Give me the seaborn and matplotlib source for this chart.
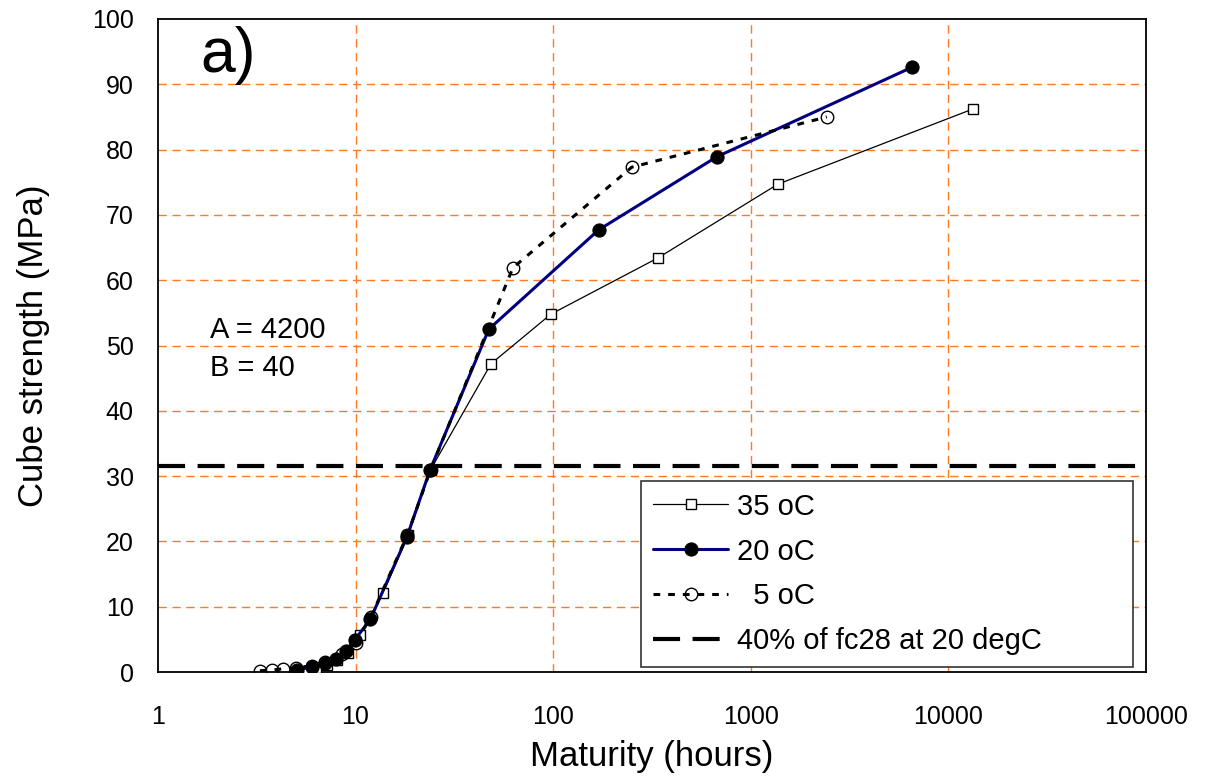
import numpy as np
import pandas as pd
import matplotlib
matplotlib.use("Agg")
import matplotlib.pyplot as plt
import seaborn as sns
from matplotlib.ticker import FixedLocator, FuncFormatter

# ---- data ----
x35 = [5.5, 6.3, 7.2, 8.1, 9.2, 10.5, 13.8, 18.5, 24.0, 48.5, 97.5, 339, 1373, 13300]
y35 = [0.2, 0.6, 1.1, 1.8, 2.9, 5.7, 12.1, 21.0, 31.0, 47.2, 54.8, 63.4, 74.7, 86.2]

x20 = [5.05, 6.0, 7.0, 7.96, 8.94, 9.9, 11.9, 18.2, 23.8, 47.3, 170, 674, 6550]
y20 = [0.3, 0.8, 1.4, 2.0, 3.2, 4.9, 8.1, 20.7, 30.9, 52.5, 67.7, 78.9, 92.6]

x5 = [3.28, 3.78, 4.29, 5.0, 6.0, 7.0, 8.5, 10.0, 12.0, 18.3, 24.0, 62.6, 250, 2430]
y5 = [0.2, 0.3, 0.5, 0.6, 1.0, 1.6, 2.8, 4.5, 8.5, 21.0, 31.0, 61.9, 77.3, 85.0]

threshold = 31.5

labels = ["35 oC", "20 oC", "  5 oC", "40% of fc28 at 20 degC"]
x_ticks = [1, 10, 100, 1000, 10000, 100000]
y_ticks = [0, 10, 20, 30, 40, 50, 60, 70, 80, 90, 100]

sns.set_theme(style="white")
plt.rcParams["font.family"] = ["Liberation Sans", "DejaVu Sans"]
plt.rcParams["text.color"] = "black"
plt.rcParams["axes.labelcolor"] = "black"
plt.rcParams["xtick.color"] = "black"
plt.rcParams["ytick.color"] = "black"

fig = plt.figure(figsize=(12.06, 7.78), dpi=100)
ax = fig.add_axes([0.131, 0.1362, 0.819, 0.8394])

grid_c = "#FF7A22"
for xv in x_ticks[1:-1]:
    ax.axvline(xv, color=grid_c, lw=1.0, dashes=(6, 4), zorder=0)
for yv in y_ticks[1:-1]:
    ax.axhline(yv, color=grid_c, lw=1.0, dashes=(6, 4), zorder=0)

df35 = pd.DataFrame({"x": x35, "y": y35})
df20 = pd.DataFrame({"x": x20, "y": y20})
df5 = pd.DataFrame({"x": x5, "y": y5})

sns.lineplot(data=df35, x="x", y="y", ax=ax, sort=False, estimator=None,
             color="black", lw=0.9, marker="s", markersize=7.5,
             markerfacecolor="white", markeredgecolor="black",
             markeredgewidth=1.0, label=labels[0], zorder=3)
sns.lineplot(data=df20, x="x", y="y", ax=ax, sort=False, estimator=None,
             color="#000080", lw=2.2, marker="o", markersize=9.5,
             markerfacecolor="black", markeredgecolor="black",
             label=labels[1], zorder=4)
sns.lineplot(data=df5, x="x", y="y", ax=ax, sort=False, estimator=None,
             color="black", lw=2.2, linestyle=(0, (2.2, 2.6)), marker="o",
             markersize=9, markerfacecolor="none", markeredgecolor="black",
             markeredgewidth=1.0, label=labels[2], zorder=5)
ax.axhline(threshold, color="black", lw=3.0, dashes=(6.5, 3.0),
           label=labels[3], zorder=2)

ax.set_xscale("log")
ax.set_xlim(1, 100000)
ax.set_ylim(0, 100)
ax.xaxis.set_major_locator(FixedLocator(x_ticks))
ax.xaxis.set_minor_locator(FixedLocator([]))
ax.xaxis.set_major_formatter(FuncFormatter(lambda v, p: f"{int(round(v))}"))
ax.yaxis.set_major_locator(FixedLocator(y_ticks))
ax.tick_params(axis="both", which="major", direction="out", length=6.5,
               width=1.0, color="black", labelsize=18)
ax.tick_params(axis="x", pad=17)
ax.tick_params(axis="y", pad=11)

for s in ax.spines.values():
    s.set_color("black")
    s.set_linewidth(1.3)

ax.set_xlabel("Maturity (hours)", fontsize=25, labelpad=8)
ax.set_ylabel("Cube strength (MPa)", fontsize=25, labelpad=30)

ax.text(0.043, 0.99, "a)", transform=ax.transAxes, fontsize=45,
        ha="left", va="top")
ax.text(0.053, 0.523, "A = 4200", transform=ax.transAxes, fontsize=21,
        ha="left", va="center")
ax.text(0.053, 0.465, "B = 40", transform=ax.transAxes, fontsize=21,
        ha="left", va="center")

leg = ax.legend(loc="lower left", bbox_to_anchor=(0.489, 0.0077, 0.498, 0.283),
                mode="expand", fontsize=21, frameon=True, fancybox=False,
                shadow=False, handlelength=2.6, handletextpad=0.3,
                borderpad=0.4, labelspacing=0.58, borderaxespad=0.0)
leg.get_frame().set_edgecolor("#333333")
leg.get_frame().set_linewidth(1.2)
leg.get_frame().set_alpha(1.0)

fig.savefig("out.png", dpi=100, facecolor="white")
